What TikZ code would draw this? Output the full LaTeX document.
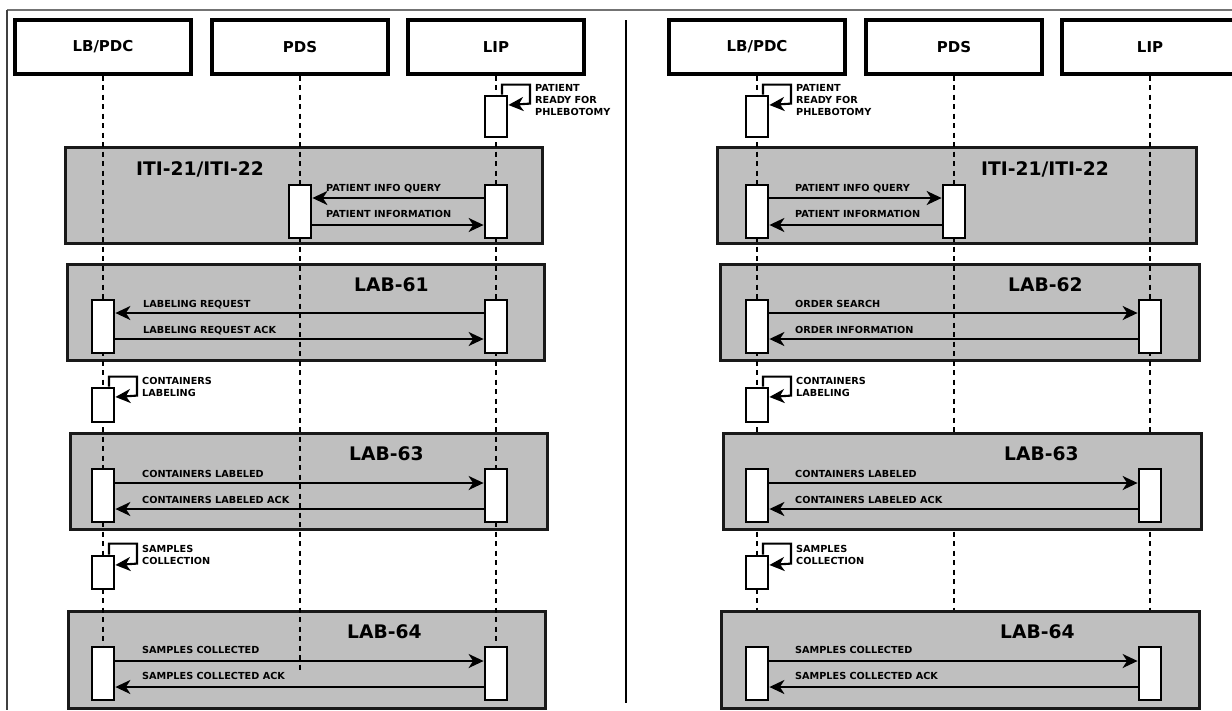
\documentclass[tikz,border=0pt]{standalone}
\usepackage{fontspec}
\setmainfont{DejaVu Sans}
\usetikzlibrary{arrows.meta}
\definecolor{grpfill}{RGB}{191,191,191}
\begin{document}
\begin{tikzpicture}[x=1pt,y=-1pt,
  hdr/.style={draw, line width=3.2pt, minimum width=176pt, minimum height=54pt, inner sep=0pt, font=\fontsize{15}{18}\selectfont\bfseries},
  grp/.style={draw=black!90, fill=grpfill, line width=2.8pt, anchor=north west, inner sep=0pt},
  act/.style={draw, fill=white, line width=2.8pt, minimum width=22pt, inner sep=0pt},
  life/.style={line width=2.2pt, dash pattern=on 5pt off 4.5pt},
  msg/.style={line width=2.1pt, -{Stealth[length=15pt,width=14pt,inset=4.5pt]}},
  lbl/.style={anchor=base west, inner sep=0pt, font=\fontsize{9.7}{12}\selectfont\bfseries},
  slbl/.style={anchor=north west, inner sep=0pt, align=left, font=\fontsize{9.7}{12}\selectfont\bfseries},
  ttl/.style={anchor=base west, inner sep=0pt, font=\fontsize{18.7}{22}\selectfont\bfseries}]
\useasboundingbox (0,0) rectangle (1232,710);
% frame and divider
\coordinate (fTL) at (7,10);
\coordinate (fTR) at (1232,10);
\coordinate (fBL) at (7,710);
\draw[black!55, line width=1.6pt] (fTL) -- (fTR);
\draw[black!75, line width=1.3pt] (fTL) -- (fBL);
\coordinate (dT) at (626,20);
\coordinate (dB) at (626,703);
\draw[line width=2.3pt] (dT) -- (dB);

% ===== group boxes (under lifelines)
\node[grp, minimum width=477pt, minimum height=96pt] (gL1) at (64,146) {};
\node[grp, minimum width=477pt, minimum height=96pt] (gL2) at (66,263) {};
\node[grp, minimum width=477pt, minimum height=96pt] (gL3) at (69,432) {};
\node[grp, minimum width=477pt, minimum height=97pt] (gL4) at (67,610) {};
\node[grp, minimum width=479pt, minimum height=96pt] (gR1) at (716,146) {};
\node[grp, minimum width=479pt, minimum height=96pt] (gR2) at (719,263) {};

% ===== headers
\node[hdr] (hL1) at (103,47) {LB/PDC};
\node[hdr] (hL2) at (300,47) {PDS};
\node[hdr] (hL3) at (496,47) {LIP};
\node[hdr] (hR1) at (757,47) {LB/PDC};
\node[hdr] (hR2) at (954,47) {PDS};
\node[hdr] (hR3) at (1150,47) {LIP};

\coordinate (Lend2) at (300,670);
\coordinate (Rend2) at (954,647);

% lifelines
\draw[life] (hL1.south) -- (103,660);
\draw[life] (hL2.south) -- (Lend2);
\draw[life] (hL3.south) -- (496,660);
\draw[life] (hR1.south) -- (757,647);
\draw[life] (hR2.south) -- (Rend2);
\draw[life] (hR3.south) -- (1150,647);

% group boxes over lifelines (right side)
\node[grp, minimum width=478pt, minimum height=96pt] (gR3) at (722,432) {};
\node[grp, minimum width=478pt, minimum height=97pt] (gR4) at (720,610) {};

% ===== left activations
\node[act, minimum height=41pt] (La0) at (496,116.5) {};
\node[act, minimum height=53pt] (La1p) at (300,211.5) {};
\node[act, minimum height=53pt] (La1l) at (496,211.5) {};
\node[act, minimum height=53pt] (La2b) at (103,326.5) {};
\node[act, minimum height=53pt] (La2l) at (496,326.5) {};
\node[act, minimum height=34pt] (La3) at (103,405) {};
\node[act, minimum height=53pt] (La4b) at (103,495.5) {};
\node[act, minimum height=53pt] (La4l) at (496,495.5) {};
\node[act, minimum height=33pt] (La5) at (103,572.5) {};
\node[act, minimum height=53pt] (La6b) at (103,673.5) {};
\node[act, minimum height=53pt] (La6l) at (496,673.5) {};
% ===== right activations
\node[act, minimum height=41pt] (Ra0) at (757,116.5) {};
\node[act, minimum height=53pt] (Ra1b) at (757,211.5) {};
\node[act, minimum height=53pt] (Ra1p) at (954,211.5) {};
\node[act, minimum height=53pt] (Ra2b) at (757,326.5) {};
\node[act, minimum height=53pt] (Ra2l) at (1150,326.5) {};
\node[act, minimum height=34pt] (Ra3) at (757,405) {};
\node[act, minimum height=53pt] (Ra4b) at (757,495.5) {};
\node[act, minimum height=53pt] (Ra4l) at (1150,495.5) {};
\node[act, minimum height=33pt] (Ra5) at (757,572.5) {};
\node[act, minimum height=53pt] (Ra6b) at (757,673.5) {};
\node[act, minimum height=53pt] (Ra6l) at (1150,673.5) {};

% ===== self calls
\draw[msg] (La0.north) ++(6,0) -- ++(0,-10) -- ++(28,0) -- ++(0,19) -- (La0.east |- 0,105);
\draw[msg] (La3.north) ++(6,0) -- ++(0,-10) -- ++(28,0) -- ++(0,19) -- (La3.east |- 0,397);
\draw[msg] (La5.north) ++(6,0) -- ++(0,-11) -- ++(28,0) -- ++(0,20) -- (La5.east |- 0,565);
\draw[msg] (Ra0.north) ++(6,0) -- ++(0,-10) -- ++(28,0) -- ++(0,19) -- (Ra0.east |- 0,105);
\draw[msg] (Ra3.north) ++(6,0) -- ++(0,-10) -- ++(28,0) -- ++(0,19) -- (Ra3.east |- 0,397);
\draw[msg] (Ra5.north) ++(6,0) -- ++(0,-11) -- ++(28,0) -- ++(0,20) -- (Ra5.east |- 0,565);

% ===== messages left
\draw[msg] (La1l.west |- 0,198) -- (La1p.east |- 0,198);
\draw[msg] (La1p.east |- 0,225) -- (La1l.west |- 0,225);
\draw[msg] (La2l.west |- 0,313) -- (La2b.east |- 0,313);
\draw[msg] (La2b.east |- 0,339) -- (La2l.west |- 0,339);
\draw[msg] (La4b.east |- 0,483) -- (La4l.west |- 0,483);
\draw[msg] (La4l.west |- 0,509) -- (La4b.east |- 0,509);
\draw[msg] (La6b.east |- 0,661) -- (La6l.west |- 0,661);
\draw[msg] (La6l.west |- 0,687) -- (La6b.east |- 0,687);
% ===== messages right
\draw[msg] (Ra1b.east |- 0,198) -- (Ra1p.west |- 0,198);
\draw[msg] (Ra1p.west |- 0,225) -- (Ra1b.east |- 0,225);
\draw[msg] (Ra2b.east |- 0,313) -- (Ra2l.west |- 0,313);
\draw[msg] (Ra2l.west |- 0,339) -- (Ra2b.east |- 0,339);
\draw[msg] (Ra4b.east |- 0,483) -- (Ra4l.west |- 0,483);
\draw[msg] (Ra4l.west |- 0,509) -- (Ra4b.east |- 0,509);
\draw[msg] (Ra6b.east |- 0,661) -- (Ra6l.west |- 0,661);
\draw[msg] (Ra6l.west |- 0,687) -- (Ra6b.east |- 0,687);

% ===== titles
\node[ttl] (tL1) at (136,175) {ITI-21/ITI-22};
\node[ttl] (tL2) at (354,291) {LAB-61};
\node[ttl] (tL3) at (349,460) {LAB-63};
\node[ttl] (tL4) at (347,638) {LAB-64};
\node[ttl] (tR1) at (981,175) {ITI-21/ITI-22};
\node[ttl] (tR2) at (1008,291) {LAB-62};
\node[ttl] (tR3) at (1004,460) {LAB-63};
\node[ttl] (tR4) at (1000,638) {LAB-64};

% ===== message labels left
\node[lbl] (mL1) at (326,191) {PATIENT INFO QUERY};
\node[lbl] (mL2) at (326,217) {PATIENT INFORMATION};
\node[lbl] (mL3) at (143,307) {LABELING REQUEST};
\node[lbl] (mL4) at (143,333) {LABELING REQUEST ACK};
\node[lbl] (mL5) at (142,477) {CONTAINERS LABELED};
\node[lbl] (mL6) at (142,503) {CONTAINERS LABELED ACK};
\node[lbl] (mL7) at (142,653) {SAMPLES COLLECTED};
\node[lbl] (mL8) at (142,679) {SAMPLES COLLECTED ACK};
% ===== message labels right
\node[lbl] (mR1) at (795,191) {PATIENT INFO QUERY};
\node[lbl] (mR2) at (795,217) {PATIENT INFORMATION};
\node[lbl] (mR3) at (795,307) {ORDER SEARCH};
\node[lbl] (mR4) at (795,333) {ORDER INFORMATION};
\node[lbl] (mR5) at (795,477) {CONTAINERS LABELED};
\node[lbl] (mR6) at (795,503) {CONTAINERS LABELED ACK};
\node[lbl] (mR7) at (795,653) {SAMPLES COLLECTED};
\node[lbl] (mR8) at (795,679) {SAMPLES COLLECTED ACK};

% ===== self-call labels
\node[slbl] (sL0) at (535,84) {PATIENT\\READY FOR\\PHLEBOTOMY};
\node[slbl] (sL3) at (142,377) {CONTAINERS\\LABELING};
\node[slbl] (sL5) at (142,545) {SAMPLES\\COLLECTION};
\node[slbl] (sR0) at (796,84) {PATIENT\\READY FOR\\PHLEBOTOMY};
\node[slbl] (sR3) at (796,377) {CONTAINERS\\LABELING};
\node[slbl] (sR5) at (796,545) {SAMPLES\\COLLECTION};
\end{tikzpicture}
\end{document}
